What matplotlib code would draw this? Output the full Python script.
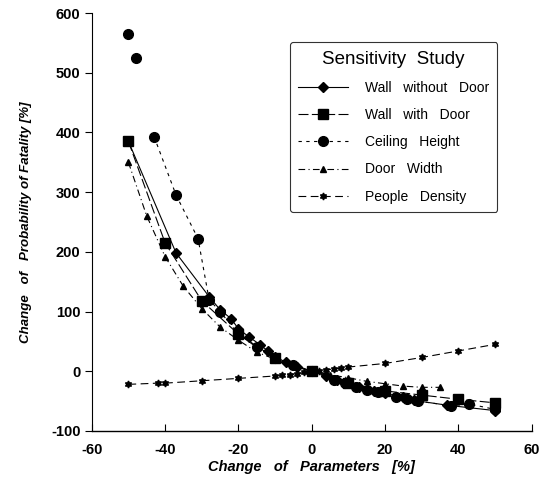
import numpy as np
import matplotlib.pyplot as plt

plt.rcParams['font.family'] = ['Liberation Sans', 'DejaVu Sans']
plt.rcParams['axes.unicode_minus'] = False

# Wall without Door (diamonds, solid line)
x_wall_nodoor = [-50, -37, -28, -25, -22, -20, -17, -14, -12, -10, -7, -4, 0,
                 4, 7, 10, 13, 17, 20, 25, 28, 37, 50]
y_wall_nodoor = [385, 198, 125, 103, 88, 71, 57, 44, 34, 24, 15, 7, 0,
                 -8, -15, -20, -27, -33, -37, -44, -49, -57, -66]

# Wall with Door (squares)
x_wall_door = [-50, -40, -30, -20, -10, 0, 10, 20, 30, 40, 50]
y_wall_door = [385, 215, 118, 62, 22, 0, -20, -33, -40, -47, -53]

# Ceiling Height (circles)
x_ceiling = [-50, -48, -43, -37, -31, -28, -25, -20, -15, -10, -5, 0,
             6, 9, 12, 15, 18, 23, 26, 29, 38, 43, 50]
y_ceiling = [565, 524, 393, 295, 222, 120, 100, 62, 40, 22, 10, 0,
             -15, -20, -27, -31, -35, -43, -46, -50, -58, -55, -64]

# Door Width (triangles)
x_door_width = [-50, -45, -40, -35, -30, -25, -20, -15, -10, -5, 0,
                5, 10, 15, 20, 25, 30, 35]
y_door_width = [350, 260, 192, 142, 105, 74, 52, 32, 20, 8, 0,
                -6, -11, -17, -21, -25, -27, -27]

# People Density (stars)
x_people = [-50, -42, -40, -30, -20, -10, -8, -6, -4, -2, 0, 2, 4, 6, 8, 10,
            20, 30, 40, 50]
y_people = [-22, -20, -20, -16, -12, -8, -7, -6, -4, -2, 0, 1, 2, 4, 5, 7,
            13, 23, 34, 45]

fig = plt.figure(figsize=(5.46, 4.82), dpi=100)
ax = fig.add_axes([0.168, 0.106, 0.806, 0.867])

ax.plot(x_wall_nodoor, y_wall_nodoor, color='black', lw=0.8, ls='-',
        marker='D', ms=5, label='Wall   without   Door')
ax.plot(x_wall_door, y_wall_door, color='black', lw=0.8, ls=(0, (9, 3)),
        marker='s', ms=7, label='Wall   with   Door')
# the first two ceiling points stand alone
ax.plot(x_ceiling[:2], y_ceiling[:2], color='black', ls='none',
        marker='o', ms=7)
ax.plot(x_ceiling[2:], y_ceiling[2:], color='black', lw=0.8, ls=(0, (3, 4)),
        marker='o', ms=7, label='Ceiling   Height')
ax.plot(x_door_width, y_door_width, color='black', lw=0.8,
        ls=(0, (6, 3, 1, 3)), marker='^', ms=5, label='Door   Width')
ax.plot(x_people, y_people, color='black', lw=0.8, ls=(0, (7, 4)),
        marker=(6, 1, 0), ms=5, label='People   Density')

ax.set_xlim(-60, 60)
ax.set_ylim(-100, 600)
ax.set_xticks(np.arange(-60, 61, 20))
ax.set_yticks(np.arange(-100, 601, 100))
ax.spines['top'].set_visible(False)
ax.spines['right'].set_visible(False)
ax.spines['left'].set_linewidth(0.8)
ax.spines['bottom'].set_linewidth(1.0)
ax.tick_params(axis='y', direction='out', length=5, width=0.8, pad=3)
ax.tick_params(axis='x', direction='in', length=5, width=0.8, pad=9)
for lab in ax.get_xticklabels() + ax.get_yticklabels():
    lab.set_fontweight('bold')
    lab.set_fontsize(10.5)

ax.set_xlabel('Change   of   Parameters   [%]', fontsize=10.5,
              fontweight='bold', fontstyle='italic', labelpad=2)
ax.set_ylabel('Change   of   Probability of Fatality [%]', fontsize=9.5,
              fontweight='bold', fontstyle='italic', labelpad=14)

leg = ax.legend(title='Sensitivity  Study', loc='upper right',
                bbox_to_anchor=(0.922, 0.93), fontsize=10, title_fontsize=13.5,
                frameon=True, fancybox=True, edgecolor='black',
                handlelength=3.6, handletextpad=1.2, labelspacing=0.95,
                borderpad=0.6, borderaxespad=0)
leg.get_frame().set_linewidth(0.8)

fig.savefig('out.png', dpi=100)
